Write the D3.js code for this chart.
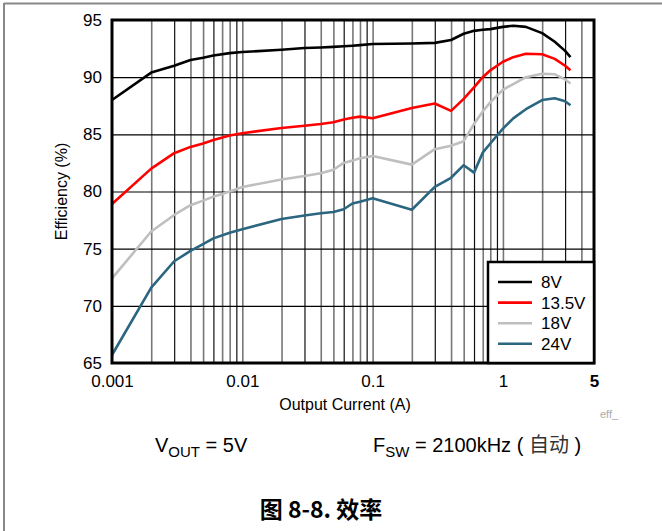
<!DOCTYPE html>
<html><head><meta charset="utf-8">
<script src="https://cdn.jsdelivr.net/npm/d3@7"></script>
<style>
html,body{margin:0;padding:0;background:#fff;}
svg{display:block;font-family:"Liberation Sans",Arial,sans-serif;}
</style></head>
<body>
<svg id="c" width="662" height="531"></svg>
<script>
const currents = [0.001,0.002,0.003,0.004,0.005,0.006,0.008,0.01,0.02,0.03,0.04,0.05,0.06,0.07,0.08,0.1,0.2,0.3,0.4,0.5,0.6,0.7,0.8,1,1.2,1.5,2,2.5,3,3.3];
const eff8V   = [88.0,90.4,91.0,91.5,91.7,91.9,92.1,92.2,92.4,92.55,92.6,92.65,92.7,92.75,92.8,92.9,92.95,93.0,93.25,93.8,94.05,94.15,94.2,94.4,94.5,94.4,93.85,93.1,92.3,91.75];
const eff13V5 = [78.9,82.0,83.35,83.9,84.2,84.5,84.9,85.1,85.55,85.75,85.9,86.05,86.3,86.45,86.55,86.4,87.3,87.7,87.05,88.1,89.1,90.0,90.6,91.35,91.75,92.05,92.0,91.6,91.0,90.6];
const eff18V  = [72.4,76.5,77.95,78.8,79.2,79.55,80.0,80.4,81.05,81.35,81.6,81.9,82.5,82.7,82.9,83.1,82.35,83.7,84.0,84.4,85.9,87.0,87.8,88.9,89.4,90.0,90.3,90.25,89.8,89.45];
const eff24V  = [65.7,71.6,73.9,74.8,75.4,75.9,76.4,76.7,77.6,77.9,78.1,78.2,78.45,78.95,79.1,79.4,78.4,80.4,81.2,82.3,81.65,83.4,84.2,85.5,86.4,87.2,88.0,88.15,87.9,87.55];
const seriesNames = ["8V","13.5V","18V","24V"];
const seriesColors = ["#000000","#ff0000","#bfbfbf","#2b6580"];
const yTicks = [65,70,75,80,85,90,95];
const xTickValues = [0.001,0.01,0.1,1,5];
const xTickLabels = ["0.001","0.01","0.1","1","5"];

const seriesValues = [eff8V, eff13V5, eff18V, eff24V];
const svg = d3.select("#c");
const L=112,R=594,T=20,B=363;
const x = d3.scaleLog().domain([0.001,5]).range([L,R]);
const y = d3.scaleLinear().domain([65,95]).range([B,T]);

// outer frame
svg.append("line").attr("x1",4).attr("x2",662).attr("y1",3.5).attr("y2",3.5).attr("stroke","#888").attr("stroke-width",2);
svg.append("line").attr("x1",4).attr("x2",4).attr("y1",3).attr("y2",531).attr("stroke","#888").attr("stroke-width",2);

// vertical grid
const minor = [];
[0.001,0.01,0.1,1].forEach(d=>{for(let k=1;k<=9;k++){const v=d*k; if(v>0.001 && v<5) minor.push(v);}});
const vgrid = d3.axisBottom(x).tickValues(minor).tickSize(-(B-T)).tickFormat("");
const gv = svg.append("g").attr("transform",`translate(0,${B})`).call(vgrid);
gv.select(".domain").remove();
gv.selectAll(".tick line").attr("stroke",(d,i)=> i%3===1 ? "#111" : "#777").attr("stroke-width",(d,i)=> i%3===1 ? 1.2 : 1.6);

// horizontal grid
const hgrid = d3.axisLeft(y).tickValues(yTicks.slice(1,-1)).tickSize(-(R-L)).tickFormat("");
const gh = svg.append("g").attr("transform",`translate(${L},0)`).call(hgrid);
gh.select(".domain").remove();
gh.selectAll(".tick line").attr("stroke","#000").attr("stroke-width",1.2);

// lines
const line = d3.line().x((d,i)=>x(currents[i])).y(d=>y(d)).curve(d3.curveLinear);
seriesValues.forEach((vals,k)=>{
  svg.append("path").datum(vals).attr("d",line).attr("fill","none")
    .attr("stroke",seriesColors[k]).attr("stroke-width",2.6).attr("stroke-linejoin","round");
});

// plot border
svg.append("rect").attr("x",L).attr("y",T).attr("width",R-L).attr("height",B-T)
  .attr("fill","none").attr("stroke","#000").attr("stroke-width",3);

// y axis labels
const ay = d3.axisLeft(y).tickValues(yTicks).tickSize(0).tickPadding(10);
const gay = svg.append("g").attr("transform",`translate(${L},0)`).call(ay);
gay.select(".domain").remove();
gay.selectAll("text").attr("font-size","17px").attr("fill","#000").attr("font-family","Liberation Sans, Arial, sans-serif");

// x axis labels
const ax = d3.axisBottom(x).tickValues(xTickValues).tickSize(0).tickPadding(12).tickFormat((d,i)=>xTickLabels[i]);
const gax = svg.append("g").attr("transform",`translate(0,${B})`).call(ax);
gax.select(".domain").remove();
gax.selectAll("text").attr("font-size","17px").attr("fill","#000").attr("font-family","Liberation Sans, Arial, sans-serif")
  .attr("font-weight",(d,i)=> i===xTickValues.length-1 ? "bold":"normal");

// axis titles
svg.append("text").attr("x",(L+R)/2-8).attr("y",410).attr("text-anchor","middle").attr("font-size","16px").text("Output Current (A)");
svg.append("text").attr("transform",`translate(67,${(T+B)/2}) rotate(-90)`).attr("text-anchor","middle").attr("font-size","16px").text("Efficiency (%)");
svg.append("text").attr("x",600).attr("y",418).attr("font-size","11px").attr("fill","#aaa").text("eff_");

// legend
const lg = svg.append("g");
lg.append("rect").attr("x",488).attr("y",262).attr("width",R-488).attr("height",B-262).attr("fill","#fff").attr("stroke","#000").attr("stroke-width",2.5);
seriesNames.forEach((n,k)=>{
  const yy = 282 + k*20.6;
  lg.append("line").attr("x1",498).attr("x2",532).attr("y1",yy).attr("y2",yy).attr("stroke",seriesColors[k]).attr("stroke-width",2.6);
  lg.append("text").attr("x",541).attr("y",yy+6).attr("font-size","17px").text(n);
});

// conditions
const t1 = svg.append("text").attr("x",155).attr("y",452).attr("font-size","20px");
t1.append("tspan").text("V");
t1.append("tspan").attr("font-size","15px").attr("dy",5).text("OUT");
t1.append("tspan").attr("dy",-5).text(" = 5V");
const t2 = svg.append("text").attr("x",373).attr("y",452).attr("font-size","20px");
t2.append("tspan").text("F");
t2.append("tspan").attr("font-size","15px").attr("dy",5).text("SW");
t2.append("tspan").attr("dy",-5).text(" = 2100kHz ( ");
t2.append("tspan").attr("font-family","Noto Sans CJK SC").attr("fill","#333").text("自动");
t2.append("tspan").text(" )");

svg.append("text").attr("x",321).attr("y",518).attr("text-anchor","middle").attr("font-size","23px").attr("font-weight","bold")
  .attr("font-family","Noto Sans CJK SC, Liberation Sans, sans-serif").text("图 8-8. 效率");
</script>
</body></html>
